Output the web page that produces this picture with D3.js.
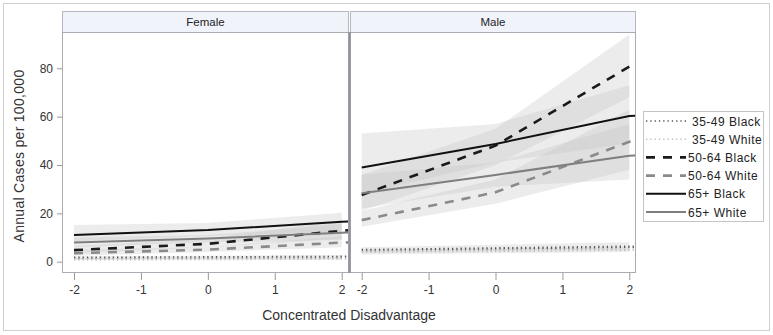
<!DOCTYPE html>
<html><head><meta charset="utf-8">
<script src="https://cdn.jsdelivr.net/npm/d3@7"></script>
<style>
body{margin:0;background:#fff;}
svg{display:block;font-family:"Liberation Sans",Arial,sans-serif;}
</style></head>
<body><svg id="c" width="773" height="335"></svg>
<script>
// ---------- data ----------
const panels = ["Female", "Male"];
const seriesNames = ["35-49 Black", "35-49 White", "50-64 Black", "50-64 White", "65+ Black", "65+ White"];
const xTicks = [-2, -1, 0, 1, 2];
const yTicks = [0, 20, 40, 60, 80];
const xFit = [-2, 0, 2, 2.12];
const xBand = [-2, 0, 2];

const femaleFit = [
  [1.6, 1.8, 2.0, 2.0],
  [1.0, 1.1, 1.3, 1.3],
  [4.8, 7.4, 12.8, 13.0],
  [3.5, 5.0, 7.9, 8.0],
  [11.0, 13.1, 16.5, 16.6],
  [7.9, 9.6, 12.0, 12.1]
];
const femaleLower = [
  [1.0, 1.2, 1.3],
  [0.7, 0.8, 0.8],
  [3.5, 6.0, 9.5],
  [2.5, 4.0, 6.0],
  [8.5, 10.5, 12.5],
  [6.0, 8.0, 9.0]
];
const femaleUpper = [
  [2.3, 2.5, 2.8],
  [1.5, 1.6, 1.8],
  [6.5, 9.5, 17.0],
  [5.0, 6.0, 10.5],
  [15.2, 16.0, 20.3],
  [10.0, 11.0, 15.5]
];

const maleFit = [
  [4.8, 5.5, 6.2, 6.2],
  [4.1, 4.5, 5.0, 5.0],
  [27.6, 48.0, 80.7, 81.0],
  [17.2, 28.7, 49.6, 50.0],
  [39.0, 48.7, 60.3, 60.4],
  [28.3, 35.9, 43.8, 44.0]
];
const maleLower = [
  [3.8, 4.4, 5.0],
  [3.0, 3.5, 4.0],
  [21.0, 40.0, 68.0],
  [14.5, 24.0, 38.0],
  [28.0, 41.0, 49.0],
  [22.0, 31.0, 34.0]
];
const maleUpper = [
  [6.0, 7.0, 8.0],
  [5.0, 5.5, 6.0],
  [36.0, 55.0, 94.0],
  [21.0, 34.0, 63.0],
  [53.0, 57.0, 73.0],
  [36.0, 41.0, 57.0]
];

// ---------- styles ----------
const lineColor = ["#555", "#bdbdbd", "#1a1a1a", "#8a8a8a", "#111", "#7f7f7f"];
const lineDash = ["1.3,3", "1.3,3", "9,8", "9,8", null, null];
const lineWidth = [2.5, 2.5, 2.6, 2.6, 2, 2];

const svg = d3.select("#c");
const txt = "#333";
const fmt = d => String(d);

// outer border
svg.append("rect").attr("x", 3.5).attr("y", 3.5).attr("width", 766).attr("height", 327)
  .attr("fill", "none").attr("stroke", "#cfcfcf");

const y = d3.scaleLinear().domain([0, 80]).range([261.7, 68.3]);
const plotTop = 32, plotBot = 273, headTop = 11;

const panelBox = [[62, 349], [350, 636]];
const xRange = [[74, 341.7], [361.7, 629.3]];
const fits = [femaleFit, maleFit], lows = [femaleLower, maleLower], ups = [femaleUpper, maleUpper];

panels.forEach((p, pi) => {
  const [x0, x1] = panelBox[pi];
  const x = d3.scaleLinear().domain([-2, 2]).range(xRange[pi]);
  const g = svg.append("g");
  // header
  g.append("rect").attr("x", x0 + 0.5).attr("y", headTop + 0.5).attr("width", x1 - x0 - 1).attr("height", plotTop - headTop)
    .attr("fill", "#f0f3fa").attr("stroke", "#b4b8c0");
  g.append("text").attr("x", (x0 + x1) / 2).attr("y", (headTop + plotTop) / 2 + 4).attr("text-anchor", "middle")
    .attr("font-size", 11.5).attr("fill", "#222").text(p);

  const clipId = "clip" + pi;
  svg.append("clipPath").attr("id", clipId).append("rect")
    .attr("x", x0 + 1).attr("y", plotTop + 1).attr("width", x1 - x0 - 2).attr("height", plotBot - plotTop - 2);
  const plot = g.append("g").attr("clip-path", `url(#${clipId})`);

  // bands
  const area = d3.area().x(d => x(d[0])).y0(d => y(d[1])).y1(d => y(d[2]));
  seriesNames.forEach((s, si) => {
    const pts = xBand.map((xv, k) => [xv, lows[pi][si][k], ups[pi][si][k]]);
    plot.append("path").attr("d", area(pts)).attr("fill", "#c4c4c4").attr("fill-opacity", 0.33);
  });
  // lines
  const line = d3.line().x(d => x(d[0])).y(d => y(d[1]));
  seriesNames.forEach((s, si) => {
    const pts = xFit.map((xv, k) => [xv, fits[pi][si][k]]);
    plot.append("path").attr("d", line(pts)).attr("fill", "none")
      .attr("stroke", lineColor[si]).attr("stroke-width", lineWidth[si])
      .attr("stroke-dasharray", lineDash[si]);
  });

  // frame
  g.append("rect").attr("x", x0 + 0.5).attr("y", plotTop + 0.5).attr("width", x1 - x0 - 1).attr("height", plotBot - plotTop - 1)
    .attr("fill", "none").attr("stroke", "#a8acb2");

  // x axis
  const xa = g.append("g").attr("transform", `translate(0,${plotBot})`)
    .call(d3.axisBottom(x).tickValues(xTicks).tickSize(7).tickSizeOuter(0).tickPadding(5).tickFormat(fmt));
  xa.select(".domain").remove();
  xa.selectAll(".tick line").attr("stroke", "#999");
  xa.selectAll(".tick text").attr("font-size", 12).attr("fill", txt).attr("font-family", "Liberation Sans, Arial, sans-serif");

  if (pi === 0) {
    const ya = g.append("g").attr("transform", `translate(${x0},0)`)
      .call(d3.axisLeft(y).tickValues(yTicks).tickSize(5).tickSizeOuter(0).tickPadding(4).tickFormat(fmt));
    ya.select(".domain").remove();
    ya.selectAll(".tick line").attr("stroke", "#999");
    ya.selectAll(".tick text").attr("font-size", 12).attr("fill", txt).attr("font-family", "Liberation Sans, Arial, sans-serif");
  }
});

// middle divider
svg.append("line").attr("x1", 349.5).attr("x2", 349.5).attr("y1", plotTop).attr("y2", plotBot)
  .attr("stroke", "#8f9399").attr("stroke-width", 2);

// axis titles
svg.append("text").attr("x", 349).attr("y", 320).attr("text-anchor", "middle")
  .attr("font-size", 14).attr("fill", txt).text("Concentrated Disadvantage");
svg.append("text").attr("transform", "translate(24,156) rotate(-90)").attr("text-anchor", "middle")
  .attr("font-size", 14).attr("fill", txt).attr("letter-spacing", 0.3).text("Annual Cases per 100,000");

// legend
const lg = svg.append("g");
lg.append("rect").attr("x", 643.5).attr("y", 111.5).attr("width", 120).attr("height", 110)
  .attr("fill", "#fff").attr("stroke", "#c4c4c4");
const rowY = d3.scaleLinear().domain([0, 5]).range([121, 212]);
seriesNames.forEach((s, si) => {
  const yy = rowY(si);
  lg.append("line").attr("x1", 646).attr("x2", 686).attr("y1", yy).attr("y2", yy)
    .attr("stroke", lineColor[si]).attr("stroke-width", si < 2 ? 1.5 : lineWidth[si])
    .attr("stroke-dasharray", si < 2 ? "1.3,3" : lineDash[si]);
  lg.append("text").attr("x", si < 2 ? 692 : 688).attr("y", yy + 4.5).attr("font-size", 12)
    .attr("letter-spacing", 0.5).attr("fill", "#222").text(s);
});
</script></body></html>
